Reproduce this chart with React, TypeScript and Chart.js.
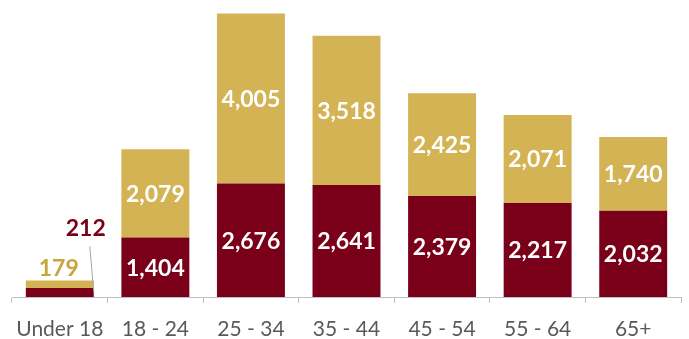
import React, { useEffect, useRef } from "react";
import { Chart, registerables } from "chart.js";

Chart.register(...registerables);

const categories = ["Under 18", "18 - 24", "25 - 34", "35 - 44", "45 - 54", "55 - 64", "65+"];
const bottomValues = [212, 1404, 2676, 2641, 2379, 2217, 2032];
const topValues = [179, 2079, 4005, 3518, 2425, 2071, 1740];

const RED = "#7A0019";
const GOLD = "#D4B355";
const GOLD_TEXT = "#C9A43C";

const fmt = (v: number) => v.toLocaleString("en-US");

const labelPlugin = {
  id: "stackLabels",
  afterDatasetsDraw(chart: any) {
    const ctx = chart.ctx;
    ctx.save();
    ctx.font = "bold 23px Lato, 'Open Sans', sans-serif";
    ctx.textAlign = "center";
    ctx.textBaseline = "middle";
    const metaBottom = chart.getDatasetMeta(0);
    const metaTop = chart.getDatasetMeta(1);
    categories.forEach((_, i) => {
      const b = metaBottom.data[i] as any;
      const t = metaTop.data[i] as any;
      if (i === 0) {
        ctx.fillStyle = GOLD_TEXT;
        ctx.fillText(fmt(topValues[i]), t.x - 1, t.y - 12);
        ctx.fillStyle = RED;
        ctx.fillText(fmt(bottomValues[i]), t.x + 26, t.y - 52);
        ctx.strokeStyle = "#A6A6A6";
        ctx.lineWidth = 1;
        ctx.beginPath();
        ctx.moveTo(t.x + 30, t.y - 34);
        ctx.lineTo(t.x + 34, b.y + 4);
        ctx.stroke();
      } else {
        ctx.fillStyle = "#FFFFFF";
        ctx.fillText(fmt(bottomValues[i]), b.x, (b.y + b.base) / 2 + 1);
        ctx.fillText(fmt(topValues[i]), t.x, (t.y + t.base) / 2 + 1);
      }
    });
    ctx.restore();
  },
};

export default function App() {
  const ref = useRef<HTMLCanvasElement>(null);
  useEffect(() => {
    document.body.style.margin = "0";
    const chart = new Chart(ref.current!, {
      type: "bar",
      data: {
        labels: categories,
        datasets: [
          { data: bottomValues, backgroundColor: RED, barPercentage: 0.711, categoryPercentage: 1 },
          { data: topValues, backgroundColor: GOLD, barPercentage: 0.711, categoryPercentage: 1 },
        ],
      },
      options: {
        responsive: false,
        animation: false,
        layout: { padding: { left: 12, right: 8, top: 0, bottom: 0 } },
        plugins: { legend: { display: false }, tooltip: { enabled: false } },
        scales: {
          x: {
            stacked: true,
            grid: { drawOnChartArea: false, tickLength: 6, color: "#BFBFBF", offset: true },
            border: { color: "#BFBFBF", width: 1 },
            ticks: {
              color: "#595959",
              font: { size: 21, family: "Lato, 'Open Sans', sans-serif" },
              padding: 14,
              maxRotation: 0,
              autoSkip: false,
            },
            afterFit(scale: any) {
              scale.height = 42;
            },
          },
          y: { stacked: true, display: false, min: 0, max: 7000 },
        },
      },
      plugins: [labelPlugin],
    });
    return () => chart.destroy();
  }, []);
  return (
    <div style={{ position: "absolute", left: 0, top: 0 }}>
      <canvas ref={ref} width={689} height={339} />
    </div>
  );
}
